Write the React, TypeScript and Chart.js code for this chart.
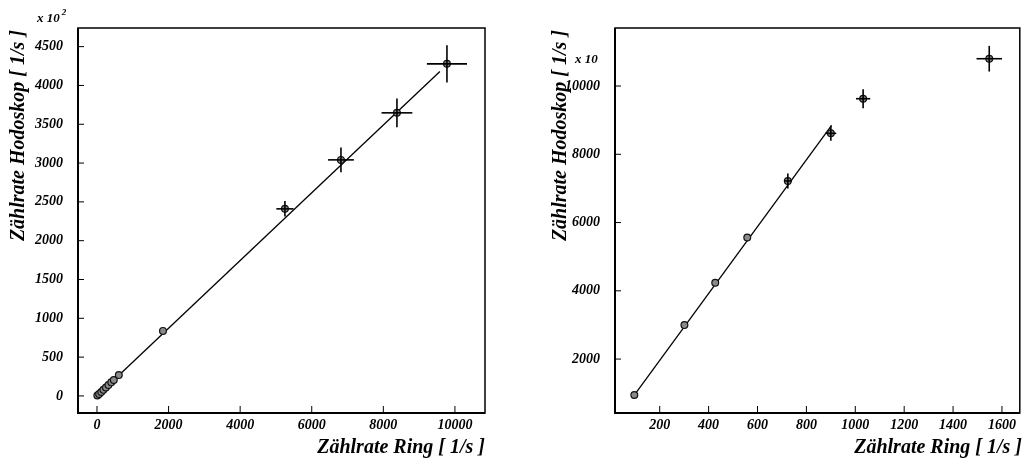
import React, { useEffect, useRef } from "react";
import { Chart, registerables } from "chart.js";
Chart.register(...registerables);

// ---------- Left panel data ----------
const leftRing = [10, 60, 120, 180, 250, 320, 400, 470, 610, 1844, 5251, 6816, 8380, 9777];
const leftHodo = [5, 25, 50, 78, 108, 140, 175, 205, 268, 838, 2410, 3041, 3647, 4278];
const leftRingErr = [0, 0, 0, 0, 0, 0, 0, 0, 0, 0, 240, 360, 430, 560];
const leftHodoErr = [0, 0, 0, 0, 0, 0, 0, 0, 0, 0, 100, 160, 185, 240];
const leftFitX = [0, 9580];
const leftFitY = [0, 4180];
const leftXTicks = [0, 2000, 4000, 6000, 8000, 10000];
const leftYTicks = [0, 500, 1000, 1500, 2000, 2500, 3000, 3500, 4000, 4500];

// ---------- Right panel data ----------
const rightRing = [96, 301, 427, 558, 724, 900, 1032, 1548];
const rightHodo = [946, 2996, 4234, 5564, 7218, 8614, 9628, 10800];
const rightRingErr = [0, 0, 0, 0, 16, 22, 29, 52];
const rightHodoErr = [0, 0, 0, 0, 220, 220, 278, 376];
const rightFitX = [96, 903];
const rightFitY = [946, 8849];
const rightXTicks = [200, 400, 600, 800, 1000, 1200, 1400, 1600];
const rightYTicks = [2000, 4000, 6000, 8000, 10000];

const yTitle = "Zählrate Hodoskop [ 1/s ]";
const xTitle = "Zählrate Ring [ 1/s ]";

const FAMILY = "'Liberation Serif', 'DejaVu Serif', serif";

const decoPlugin = {
  id: "deco",
  afterDatasetsDraw(chart: any, _args: any, opts: any) {
    const ctx = chart.ctx;
    const xs = chart.scales.x;
    const ys = chart.scales.y;
    ctx.save();
    ctx.strokeStyle = "#000";
    ctx.lineWidth = 1.6;
    const pts = opts.points;
    for (let i = 0; i < pts.x.length; i++) {
      const px = xs.getPixelForValue(pts.x[i]);
      const py = ys.getPixelForValue(pts.y[i]);
      if (pts.ex[i] > 0) {
        ctx.beginPath();
        ctx.moveTo(xs.getPixelForValue(pts.x[i] - pts.ex[i]), py);
        ctx.lineTo(xs.getPixelForValue(pts.x[i] + pts.ex[i]), py);
        ctx.stroke();
      }
      if (pts.ey[i] > 0) {
        ctx.beginPath();
        ctx.moveTo(px, ys.getPixelForValue(pts.y[i] - pts.ey[i]));
        ctx.lineTo(px, ys.getPixelForValue(pts.y[i] + pts.ey[i]));
        ctx.stroke();
      }
    }
    ctx.restore();
  },
  afterDraw(chart: any, _args: any, opts: any) {
    const ctx = chart.ctx;
    const xs = chart.scales.x;
    const ys = chart.scales.y;
    const ca = chart.chartArea;
    ctx.save();
    ctx.strokeStyle = "#000";
    ctx.lineWidth = 1.5;
    ctx.strokeRect(ca.left, ca.top, ca.right - ca.left, ca.bottom - ca.top);
    ctx.lineWidth = 2;
    ctx.beginPath();
    ctx.moveTo(ca.left, ca.top);
    ctx.lineTo(ca.left, ca.bottom);
    ctx.lineTo(ca.right, ca.bottom);
    ctx.stroke();
    ctx.lineWidth = 1;
    xs.ticks.forEach((t: any) => {
      const p = xs.getPixelForValue(t.value);
      ctx.beginPath();
      ctx.moveTo(p, ca.bottom);
      ctx.lineTo(p, ca.bottom - 7);
      ctx.stroke();
    });
    ys.ticks.forEach((t: any) => {
      const p = ys.getPixelForValue(t.value);
      ctx.beginPath();
      ctx.moveTo(ca.left, p);
      ctx.lineTo(ca.left + 6, p);
      ctx.stroke();
    });
    ctx.fillStyle = "#000";
    ctx.font = `italic bold 20px ${FAMILY}`;
    ctx.textAlign = "right";
    ctx.textBaseline = "alphabetic";
    ctx.fillText(opts.xTitle, opts.xTitleRight, 453);
    ctx.save();
    ctx.translate(opts.yTitleX, 30);
    ctx.rotate(-Math.PI / 2);
    ctx.textAlign = "right";
    ctx.textBaseline = "middle";
    ctx.fillText(opts.yTitle, 0, 0);
    ctx.restore();
    ctx.font = `italic bold 13px ${FAMILY}`;
    ctx.textAlign = "left";
    ctx.textBaseline = "alphabetic";
    ctx.fillText(opts.expText, opts.expX, opts.expY);
    if (opts.expSup) {
      const w = ctx.measureText(opts.expText).width;
      ctx.font = `italic bold 9px ${FAMILY}`;
      ctx.fillText(opts.expSup, opts.expX + w + 2, opts.expY - 7);
    }
    ctx.restore();
  },
};

function makeConfig(p: any) {
  const tickFont = { family: FAMILY, size: 14, weight: "bold" as const, style: "italic" as const };
  return {
    type: "scatter" as const,
    data: {
      datasets: [
        {
          label: "fit",
          data: p.fitX.map((x: number, i: number) => ({ x, y: p.fitY[i] })),
          showLine: true,
          borderColor: "#000",
          borderWidth: 1.3,
          pointRadius: 0,
          order: 2,
        },
        {
          label: "data",
          data: p.x.map((x: number, i: number) => ({ x, y: p.y[i] })),
          pointRadius: 3.4,
          pointBackgroundColor: "#8a8a8a",
          pointBorderColor: "#111",
          pointBorderWidth: 1.2,
          order: 1,
        },
      ],
    },
    options: {
      responsive: false,
      animation: false as const,
      devicePixelRatio: 1,
      layout: { padding: { left: 0, top: 28, right: p.padRight, bottom: 0 } },
      plugins: {
        legend: { display: false },
        tooltip: { enabled: false },
        deco: {
          points: { x: p.x, y: p.y, ex: p.ex, ey: p.ey },
          xTitle,
          yTitle,
          xTitleRight: p.xTitleRight,
          yTitleX: p.yTitleX,
          expText: p.expText,
          expSup: p.expSup,
          expX: p.expX,
          expY: p.expY,
        },
      },
      scales: {
        x: {
          type: "linear" as const,
          min: p.xMin,
          max: p.xMax,
          grid: { display: false, drawTicks: false },
          border: { display: false },
          ticks: {
            font: tickFont,
            color: "#000",
            padding: 4,
            maxRotation: 0,
            callback: (v: any) => String(v),
          },
          afterBuildTicks: (s: any) => {
            s.ticks = p.xTicks.map((v: number) => ({ value: v }));
          },
          afterFit: (s: any) => {
            s.height = 48;
          },
        },
        y: {
          type: "linear" as const,
          min: p.yMin,
          max: p.yMax,
          grid: { display: false, drawTicks: false },
          border: { display: false },
          ticks: { font: tickFont, color: "#000", padding: 15, callback: (v: any) => String(v) },
          afterBuildTicks: (s: any) => {
            s.ticks = p.yTicks.map((v: number) => ({ value: v }));
          },
          afterFit: (s: any) => {
            s.width = p.yWidth;
          },
        },
      },
    },
    plugins: [decoPlugin],
  };
}

export default function App() {
  const leftRef = useRef<HTMLCanvasElement>(null);
  const rightRef = useRef<HTMLCanvasElement>(null);

  useEffect(() => {
    const left = new Chart(
      leftRef.current as HTMLCanvasElement,
      makeConfig({
        x: leftRing,
        y: leftHodo,
        ex: leftRingErr,
        ey: leftHodoErr,
        fitX: leftFitX,
        fitY: leftFitY,
        xTicks: leftXTicks,
        yTicks: leftYTicks,
        xMin: -530,
        xMax: 10840,
        yMin: -220,
        yMax: 4740,
        padRight: 25,
        yWidth: 78,
        xTitleRight: 485,
        yTitleX: 19,
        expText: "x 10",
        expSup: "2",
        expX: 37,
        expY: 22,
      }) as any
    );
    const right = new Chart(
      rightRef.current as HTMLCanvasElement,
      makeConfig({
        x: rightRing,
        y: rightHodo,
        ex: rightRingErr,
        ey: rightHodoErr,
        fitX: rightFitX,
        fitY: rightFitY,
        xTicks: rightXTicks,
        yTicks: rightYTicks,
        xMin: 17,
        xMax: 1673,
        yMin: 420,
        yMax: 11700,
        padRight: 2,
        yWidth: 105,
        xTitleRight: 512,
        yTitleX: 51,
        expText: "x 10",
        expSup: "",
        expX: 65,
        expY: 63,
      }) as any
    );
    return () => {
      left.destroy();
      right.destroy();
    };
  }, []);

  return (
    <div
      style={{
        position: "fixed",
        left: 0,
        top: 0,
        width: 1025,
        height: 461,
        background: "#fff",
      }}
    >
      <canvas
        ref={leftRef}
        width={510}
        height={461}
        style={{ position: "absolute", left: 0, top: 0, width: 510, height: 461 }}
      />
      <canvas
        ref={rightRef}
        width={515}
        height={461}
        style={{ position: "absolute", left: 510, top: 0, width: 515, height: 461 }}
      />
    </div>
  );
}
